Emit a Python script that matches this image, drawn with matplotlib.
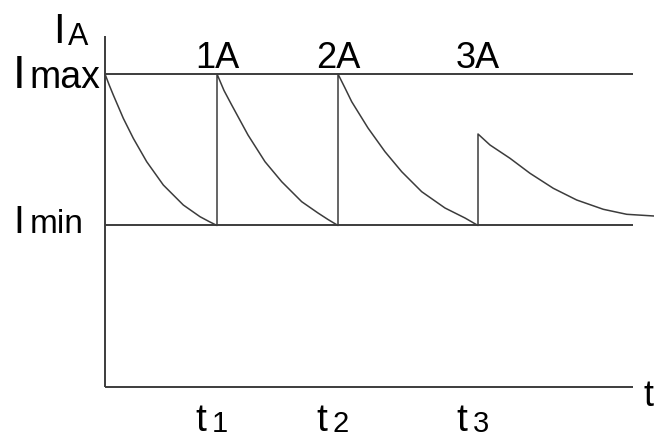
import matplotlib
matplotlib.use('Agg')

from matplotlib import pyplot
from matplotlib import transforms

pyplot.rcParams['font.family'] = ['Liberation Sans', 'DejaVu Sans']

# current levels (arbitrary units) and the instants the pump switches on
I_max = 3.125
I_min = 1.61
t_marks = [1.12, 2.33, 3.73]
t_end = 5.28
y_top = 3.505
pulse_labels = ["1A", "2A", "3A"]
time_labels = ["1", "2", "3"]

# decay of the current between switchings, read as (time, current) samples
seg1_t = [0.0, 0.04, 0.083, 0.183, 0.283, 0.417, 0.583, 0.783, 0.95, 1.04, 1.12]
seg1_i = [3.125, 3.02, 2.915, 2.682, 2.482, 2.248, 2.015, 1.815, 1.698, 1.65, 1.61]
seg2_t = [1.12, 1.19, 1.267, 1.43, 1.60, 1.767, 1.967, 2.13, 2.23, 2.33]
seg2_i = [3.125, 2.96, 2.815, 2.515, 2.248, 2.048, 1.848, 1.735, 1.67, 1.61]
seg3_t = [2.33, 2.40, 2.467, 2.63, 2.80, 2.967, 3.167, 3.40, 3.60, 3.73]
seg3_i = [3.125, 2.985, 2.848, 2.585, 2.348, 2.148, 1.948, 1.785, 1.685, 1.61]
seg4_t = [3.73, 3.85, 4.05, 4.25, 4.483, 4.717, 4.983, 5.217, 5.49]
seg4_i = [2.525, 2.415, 2.282, 2.132, 1.982, 1.865, 1.772, 1.722, 1.705]

W, H = 654, 440
fig = pyplot.figure(figsize=(W / 100, H / 100), dpi=100)
fig.set_facecolor('white')
ax = fig.add_axes([105 / W, (H - 386.5) / H, (W - 105) / W, 386.5 / H])
ax.set_xlim(0, 5.49)
ax.set_ylim(0, 386.5 / 100)
ax.axis('off')

lc = '#3c3c3c'
axis_kw = dict(color=lc, linewidth=1.4, clip_on=False, solid_capstyle='butt')
curve_kw = dict(color=lc, linewidth=1.1, clip_on=False)

# axes and the two limit levels
ax.plot([0, 0], [0, y_top], **axis_kw)
ax.plot([0, t_end], [0, 0], **axis_kw)
ax.plot([0, t_end], [I_max, I_max], **axis_kw)
ax.plot([0, t_end], [I_min, I_min], **axis_kw)

# current trace: decays joined by vertical jumps at each switching
trace_t = seg1_t + seg2_t + seg3_t + seg4_t
trace_i = seg1_i + seg2_i + seg3_i + seg4_i
ax.plot(trace_t, trace_i, **curve_kw)


def shifted(dx, dy):
    return transforms.offset_copy(ax.transData, fig=fig, x=dx, y=dy, units='dots')


def label(x, y, s, size, dx, dy, ha='left'):
    ax.text(x, y, s, fontsize=size, ha=ha, va='baseline', color='black',
            transform=shifted(dx, dy), clip_on=False)


# y axis name and level names
label(0, y_top, "I", 30, -52, -7)
label(0, y_top, "A", 22, -37, -9)
label(0, I_max, "I", 33, -92, -14)
label(0, I_max, "max", 27, -75.5, -14)
label(0, I_min, "I", 28, -91.5, -7.5)
label(0, I_min, "min", 24, -75.3, -7.5)

# x axis name
label(t_end, 0, "t", 26, 10, -19.5)

# switching instants
for tm, pl, tl in zip(t_marks, pulse_labels, time_labels):
    label(tm, I_max, pl, 26, 0, 6, ha='center')
    label(tm, 0, "t", 28, -22, -44)
    label(tm, 0, tl, 21, -5, -45.5)

pyplot.savefig("out.png", dpi=100, facecolor=fig.get_facecolor())
pyplot.close(fig)
